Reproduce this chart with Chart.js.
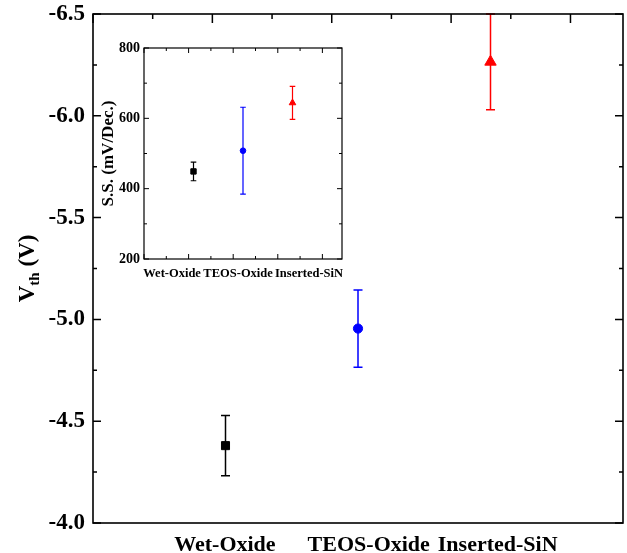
<!DOCTYPE html>
<html><head><meta charset="utf-8">
<script src="https://cdn.jsdelivr.net/npm/chart.js@4"></script>
<style>
html,body{margin:0;padding:0;background:#fff;}
#wrap{position:relative;width:627px;height:553px;overflow:hidden;background:#fff;}
#main{position:absolute;left:0;top:0;}
#inset{position:absolute;left:90px;top:30px;}
</style></head><body>
<div id="wrap"><canvas id="main" width="627" height="553"></canvas><canvas id="inset" width="270" height="270"></canvas></div>
<script>
// ---- data ----
const categories = ['Wet-Oxide', 'TEOS-Oxide', 'Inserted-SiN'];
const catPositions = [2.22, 4.44, 6.66];
const mainLabelPositions = [2.21, 4.62, 6.78];
const insetLabelPositions = [1.26, 4.22, 7.4];
const vthValues = [-4.38, -4.955, -6.265];
const vthErrors = [0.148, 0.19, 0.235];
const ssValues = [449, 508, 644];
const ssErrors = [26.5, 123.5, 47];
const vthTicks = [-6.5, -6.0, -5.5, -5.0, -4.5, -4.0];
const ssTicks = [200, 400, 600, 800];
const seriesColors = ['#000000', '#0000ff', '#ff0000'];
const seriesMarkers = ['rect', 'circle', 'triangle'];

Chart.defaults.font.family = "'Liberation Serif', 'Times New Roman', serif";
Chart.defaults.color = '#000';

function noPad(s) { s.paddingTop = 0; s.paddingBottom = 0; s.paddingLeft = 0; s.paddingRight = 0; }

function errorBarPlugin(values, errors, capHalf, lw) {
  return {
    id: 'errorBars',
    beforeDatasetsDraw(chart) {
      const ctx = chart.ctx, xs = chart.scales.x, ys = chart.scales.y;
      values.forEach((v, i) => {
        const x = xs.getPixelForValue(catPositions[i]);
        const y1 = ys.getPixelForValue(v - errors[i]);
        const y2 = ys.getPixelForValue(v + errors[i]);
        ctx.save();
        ctx.strokeStyle = seriesColors[i];
        ctx.lineWidth = lw;
        ctx.beginPath();
        ctx.moveTo(x, y1); ctx.lineTo(x, y2);
        ctx.moveTo(x - capHalf, y1); ctx.lineTo(x + capHalf, y1);
        ctx.moveTo(x - capHalf, y2); ctx.lineTo(x + capHalf, y2);
        ctx.stroke();
        ctx.restore();
      });
    }
  };
}

function frameTicksPlugin(sides, frameWidth, tickWidth) {
  return {
    id: 'frameTicks',
    afterDraw(chart) {
      const ctx = chart.ctx, a = chart.chartArea;
      ctx.save();
      ctx.strokeStyle = '#000';
      ctx.lineWidth = tickWidth;
      ctx.beginPath();
      sides.forEach(sd => {
        const sc = chart.scales[sd.scale];
        const lo = Math.min(sc.min, sc.max), hi = Math.max(sc.min, sc.max);
        const n0 = Math.ceil(lo / sd.minor - 1e-9), n1 = Math.floor(hi / sd.minor + 1e-9);
        for (let n = n0; n <= n1; n++) {
          const v = n * sd.minor;
          const r = v / sd.major;
          const isMajor = Math.abs(r - Math.round(r)) < 1e-6;
          const len = isMajor ? sd.majorLen : sd.minorLen;
          const p = sc.getPixelForValue(v);
          if (sd.side === 'left') { ctx.moveTo(a.left, p); ctx.lineTo(a.left + len, p); }
          if (sd.side === 'right') { ctx.moveTo(a.right, p); ctx.lineTo(a.right - len, p); }
          if (sd.side === 'top') { ctx.moveTo(p, a.top); ctx.lineTo(p, a.top + len); }
          if (sd.side === 'bottom') { ctx.moveTo(p, a.bottom); ctx.lineTo(p, a.bottom - len); }
        }
      });
      ctx.stroke();
      ctx.lineWidth = frameWidth;
      ctx.strokeRect(a.left, a.top, a.right - a.left, a.bottom - a.top);
      ctx.restore();
    }
  };
}

function rotatedTitlePlugin(cx, parts) {
  return {
    id: 'rotTitle',
    afterDraw(chart) {
      const ctx = chart.ctx, a = chart.chartArea;
      const cy = (a.top + a.bottom) / 2;
      ctx.save();
      ctx.translate(cx, cy);
      ctx.rotate(-Math.PI / 2);
      ctx.fillStyle = '#000';
      ctx.textBaseline = 'alphabetic';
      let total = 0;
      parts.forEach(p => { ctx.font = p.font; p.w = ctx.measureText(p.text).width; total += p.w; });
      let x = -total / 2;
      parts.forEach(p => { ctx.font = p.font; ctx.fillText(p.text, x, p.dy); x += p.w; });
      ctx.restore();
    }
  };
}

const SERIF = "'Liberation Serif', 'Times New Roman', serif";

// ---- main chart ----
new Chart(document.getElementById('main'), {
  type: 'scatter',
  data: {
    datasets: [{
      data: categories.map((c, i) => ({ x: catPositions[i], y: vthValues[i] })),
      pointStyle: seriesMarkers,
      pointRadius: [5.7, 4.6, 6.6],
      pointBackgroundColor: seriesColors,
      pointBorderColor: seriesColors,
      pointBorderWidth: 1,
      showLine: false
    }]
  },
  options: {
    responsive: false,
    animation: false,
    devicePixelRatio: 1,
    layout: { padding: 0, autoPadding: false },
    plugins: { legend: { display: false }, tooltip: { enabled: false } },
    scales: {
      x: {
        type: 'linear', position: 'bottom', min: 0, max: 8.88,
        afterBuildTicks: s => { s.ticks = mainLabelPositions.map(v => ({ value: v })); },
        ticks: { callback: (v, i) => categories[i], font: { size: 22, weight: 'bold' }, padding: 9, maxRotation: 0, autoSkip: false },
        grid: { display: false, drawTicks: false }, border: { display: false },
        afterFit: s => { s.height = 30; noPad(s); }
      },
      xTop: {
        type: 'linear', position: 'top', min: 0, max: 8.88,
        ticks: { display: false }, grid: { display: false, drawTicks: false }, border: { display: false },
        afterFit: s => { s.height = 14; noPad(s); }
      },
      y: {
        type: 'linear', position: 'left', min: -6.5, max: -4.0, reverse: true,
        afterBuildTicks: s => { s.ticks = vthTicks.map(v => ({ value: v })); },
        ticks: { callback: v => Number(v).toFixed(1), font: { size: 23, weight: 'bold' }, padding: 8, autoSkip: false },
        grid: { display: false, drawTicks: false }, border: { display: false },
        afterFit: s => { s.width = 93; noPad(s); }
      },
      yRight: {
        type: 'linear', position: 'right', min: -6.5, max: -4.0, reverse: true,
        ticks: { display: false }, grid: { display: false, drawTicks: false }, border: { display: false },
        afterFit: s => { s.width = 4; noPad(s); }
      }
    }
  },
  plugins: [
    errorBarPlugin(vthValues, vthErrors, 4.5, 1.5),
    frameTicksPlugin([
      { side: 'left', scale: 'y', minor: 0.25, major: 0.5, minorLen: 4, majorLen: 8 },
      { side: 'right', scale: 'y', minor: 0.25, major: 0.5, minorLen: 4, majorLen: 8 },
      { side: 'top', scale: 'xTop', minor: 1, major: 2, minorLen: 5, majorLen: 9 }
    ], 1.6, 1.5),
    rotatedTitlePlugin(27, [
      { text: 'V', font: 'bold 23px ' + SERIF, dy: 7 },
      { text: 'th', font: 'bold 15px ' + SERIF, dy: 12 },
      { text: ' (V)', font: 'bold 23px ' + SERIF, dy: 7 }
    ])
  ]
});

// ---- inset chart ----
new Chart(document.getElementById('inset'), {
  type: 'scatter',
  data: {
    datasets: [{
      data: categories.map((c, i) => ({ x: catPositions[i], y: ssValues[i] })),
      pointStyle: seriesMarkers,
      pointRadius: [3.8, 2.8, 3.8],
      pointBackgroundColor: seriesColors,
      pointBorderColor: seriesColors,
      pointBorderWidth: 1,
      showLine: false
    }]
  },
  options: {
    responsive: false,
    animation: false,
    devicePixelRatio: 1,
    layout: { padding: 0, autoPadding: false },
    plugins: { legend: { display: false }, tooltip: { enabled: false } },
    scales: {
      x: {
        type: 'linear', position: 'bottom', min: 0, max: 8.88,
        afterBuildTicks: s => { s.ticks = insetLabelPositions.map(v => ({ value: v })); },
        ticks: { callback: (v, i) => categories[i], font: { size: 12.5, weight: 'bold' }, padding: 7, maxRotation: 0, autoSkip: false },
        grid: { display: false, drawTicks: false }, border: { display: false },
        afterFit: s => { s.height = 41; noPad(s); }
      },
      xTop: {
        type: 'linear', position: 'top', min: 0, max: 8.88,
        ticks: { display: false }, grid: { display: false, drawTicks: false }, border: { display: false },
        afterFit: s => { s.height = 18; noPad(s); }
      },
      y: {
        type: 'linear', position: 'left', min: 200, max: 800,
        afterBuildTicks: s => { s.ticks = ssTicks.map(v => ({ value: v })); },
        ticks: { callback: v => String(v), font: { size: 14, weight: 'bold' }, padding: 4, autoSkip: false },
        grid: { display: false, drawTicks: false }, border: { display: false },
        afterFit: s => { s.width = 54; noPad(s); }
      },
      yRight: {
        type: 'linear', position: 'right', min: 200, max: 800,
        ticks: { display: false }, grid: { display: false, drawTicks: false }, border: { display: false },
        afterFit: s => { s.width = 18; noPad(s); }
      }
    }
  },
  plugins: [
    errorBarPlugin(ssValues, ssErrors, 2.8, 1.2),
    frameTicksPlugin([
      { side: 'left', scale: 'y', minor: 100, major: 200, minorLen: 3, majorLen: 5 },
      { side: 'right', scale: 'y', minor: 100, major: 200, minorLen: 3, majorLen: 5 },
      { side: 'top', scale: 'xTop', minor: 1, major: 2, minorLen: 3, majorLen: 5 },
      { side: 'bottom', scale: 'x', minor: 1, major: 2, minorLen: 3, majorLen: 5 }
    ], 1.2, 1),
    rotatedTitlePlugin(17, [
      { text: 'S.S. (mV/Dec.)', font: 'bold 17px ' + SERIF, dy: 6 }
    ])
  ]
});
</script>
</body></html>
